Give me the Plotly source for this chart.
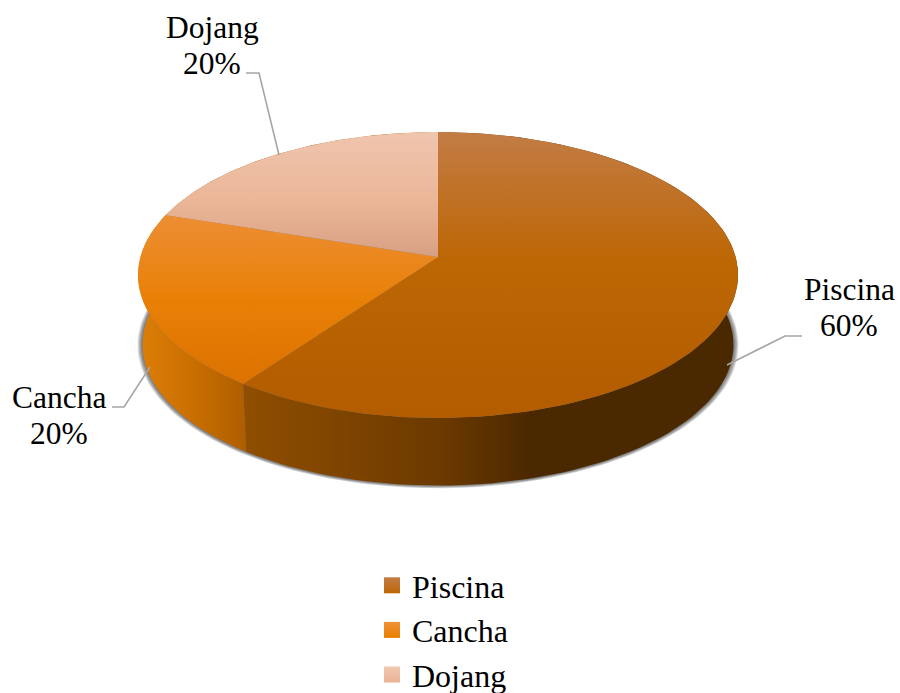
import numpy as np
import plotly.graph_objects as go

# ---- data ----
categories = ["Piscina", "Cancha", "Dojang"]
shares = [60, 20, 20]

# ---- styles ----
top_stops = {
    "Piscina": [[0, "#c27c45"], [0.45, "#bd6604"], [1, "#b35c00"]],
    "Cancha": [[0, "#ec8e35"], [0.5, "#e98006"], [1, "#dc7200"]],
    "Dojang": [[0, "#efc5ae"], [0.55, "#ebb698"], [1, "#d8a083"]],
}
wall_stops = {
    "Piscina": [[0, "#8f4e00"], [0.4, "#6c3900"], [0.58, "#4a2800"], [1, "#4b2900"]],
    "Cancha": [[0, "#de7e06"], [0.55, "#c76d00"], [1, "#ae5e00"]],
    "Dojang": [[0, "#ae5e00"], [1, "#ae5e00"]],
}
legend_colors = {"Piscina": ("#bd6604", "#c27c45"), "Cancha": ("#ea8000", "#ef9238"), "Dojang": ("#e9b295", "#f1c8b2")}
FONT = "Liberation Serif"
LEADER = "#a6a6a6"

# pixel-like geometry of the tilted disc (perspective projection of a circle)
CX, CY, BX, AY, K = 438.0, 257.0, 297.6, 140.7, 0.1259
BOTTOM_CY, BOTTOM_S = 327.0, 0.985


def project(theta, cy=CY, s=1.0):
    u, v = np.sin(theta), -np.cos(theta)
    d = 1 - K * v
    return CX + s * BX * u / d, cy + s * AY * v / d


fig = go.Figure()


def poly(x, y, **kw):
    fig.add_trace(go.Scatter(x=list(x), y=list(y), mode="lines", fill="toself",
                             line=dict(width=0), hoverinfo="skip", showlegend=False, **kw))


# soft shadow below the body
t = np.linspace(0, 2 * np.pi, 241)
for d in [5, 4, 3, 2, 1]:
    s = BOTTOM_S * (296 + d) / 296
    x, y = project(t, BOTTOM_CY, s)
    poly(x, y, fillcolor="rgba(40,40,40,0.16)")

total = sum(shares)
edges = np.cumsum([0] + shares) / total * 2 * np.pi
ranges = list(zip(edges[:-1], edges[1:]))

# walls (back to front)
for i in [2, 1, 0]:
    name = categories[i]
    a = np.linspace(ranges[i][0], ranges[i][1], 120)
    xt, yt = project(a)
    xb, yb = project(a, BOTTOM_CY, BOTTOM_S)
    xs = np.r_[xt, xb[::-1]]
    ys = np.r_[yt, yb[::-1]]
    lo, hi = xs.min(), xs.max()
    if i == 0:
        lo = xb.min()
    poly(xs, ys, fillgradient=dict(type="horizontal", colorscale=wall_stops[name], start=float(lo), stop=float(hi)))

# top faces
for i, name in enumerate(categories):
    a = np.linspace(ranges[i][0], ranges[i][1], 160)
    x, y = project(a)
    xs = np.r_[CX, x, CX]
    ys = np.r_[CY, y, CY]
    poly(xs, ys, fillgradient=dict(type="vertical", colorscale=top_stops[name],
                                   start=float(ys.min()), stop=float(ys.max())))

# leader lines
leaders = {
    "Piscina": ([802, 785, 727], [336, 336, 365]),
    "Cancha": ([112, 124, 150], [407, 407, 367]),
    "Dojang": ([246, 259, 279], [73, 73, 155]),
}
for name in categories:
    lx, ly = leaders[name]
    fig.add_trace(go.Scatter(x=lx, y=ly, mode="lines", line=dict(color=LEADER, width=1.6),
                             hoverinfo="skip", showlegend=False))

# legend entries
for name in categories:
    c, c2 = legend_colors[name]
    fig.add_trace(go.Scatter(x=[None], y=[None], mode="markers", name=name, legendgroup=name,
                             marker=dict(symbol="square", size=17, color=c2,
                                         gradient=dict(type="vertical", color=c))))

# data labels
label_pos = {"Piscina": (849, 289, 325), "Cancha": (59, 397, 433), "Dojang": (212, 27, 63)}
for name, val in zip(categories, shares):
    px, y1, y2 = label_pos[name]
    pct = round(val / total * 100)
    for text, py in ((name, y1), (f"{pct}%", y2)):
        fig.add_annotation(x=px, y=py, text=text, showarrow=False, xref="x", yref="y",
                           xanchor="center", yanchor="middle",
                           font=dict(family=FONT, size=31.5, color="black"))

fig.update_layout(
    width=900, height=693, margin=dict(l=0, r=0, t=0, b=0, autoexpand=False),
    paper_bgcolor="white", plot_bgcolor="white",
    xaxis=dict(range=[0, 900], visible=False, fixedrange=True),
    yaxis=dict(range=[693, 0], visible=False, fixedrange=True),
    showlegend=True,
    legend=dict(x=372 / 900, xanchor="left", y=(693 - 558) / 693, yanchor="top",
                font=dict(family=FONT, size=32, color="black"),
                traceorder="normal", tracegroupgap=3, bgcolor="rgba(0,0,0,0)"),
)
fig.write_html("out.html", config=dict(displayModeBar=False),
               post_script="document.body.style.margin='0';document.body.style.overflow='hidden';")
